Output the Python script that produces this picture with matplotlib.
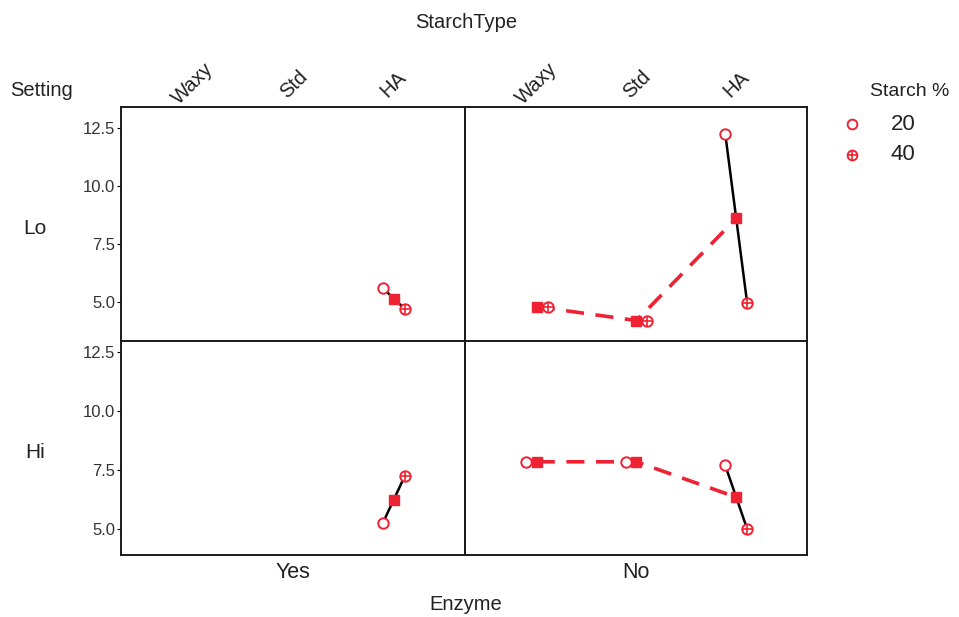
import numpy as np
import matplotlib
matplotlib.use("Agg")
import matplotlib.pyplot as plt

plt.rcParams["font.family"] = ["Liberation Sans", "DejaVu Sans"]

# Starch type categories and measured response at Starch% 20 / 40
starch_types = ["Waxy", "Std", "HA"]
settings = ["Lo", "Hi"]
enzymes = ["Yes", "No"]

lo_yes_20 = [np.nan, np.nan, 5.6]
lo_yes_40 = [np.nan, np.nan, 4.7]
lo_no_20 = [np.nan, np.nan, 12.25]
lo_no_40 = [4.8, 4.2, 4.95]
hi_yes_20 = [np.nan, np.nan, 5.25]
hi_yes_40 = [np.nan, np.nan, 7.25]
hi_no_20 = [7.85, 7.85, 7.7]
hi_no_40 = [np.nan, np.nan, 5.0]

yticks = [5.0, 7.5, 10.0, 12.5]

RED = "#ee2233"
TXT = "#222222"

panels = {
    ("Lo", "Yes"): (lo_yes_20, lo_yes_40),
    ("Lo", "No"): (lo_no_20, lo_no_40),
    ("Hi", "Yes"): (hi_yes_20, hi_yes_40),
    ("Hi", "No"): (hi_no_20, hi_no_40),
}

W, H = 959, 617
fig = plt.figure(figsize=(W / 100, H / 100), dpi=100)


def fx(px):
    return px / W


def fy(py):
    return 1 - py / H


# panel frames in pixel coordinates
col_edges = [(121, 465), (465, 807)]
row_edges = [(107, 341), (341, 555)]
row_ylim = [(3.32, 13.4), (3.9, 12.97)]
xlim = (-0.72, 2.71)
off = 0.11

x = np.arange(len(starch_types))

for r, setting in enumerate(settings):
    for c, enz in enumerate(enzymes):
        x0, x1 = col_edges[c]
        y0, y1 = row_edges[r]
        ax = fig.add_axes([fx(x0), fy(y1), fx(x1 - x0), (y1 - y0) / H])
        v20 = np.asarray(panels[(setting, enz)][0], dtype=float)
        v40 = np.asarray(panels[(setting, enz)][1], dtype=float)
        mean = np.nanmean(np.vstack([v20, v40]), axis=0)

        ok = ~np.isnan(mean)
        if ok.sum() > 1:
            ax.plot(x[ok], mean[ok], color=RED, lw=2.6, ls=(0, (5, 3.2)), zorder=2)
        for i in range(len(x)):
            if not np.isnan(v20[i]) and not np.isnan(v40[i]):
                ax.plot([x[i] - off, x[i], x[i] + off], [v20[i], mean[i], v40[i]],
                        color="black", lw=1.8, zorder=3)
        ax.plot(x[ok], mean[ok], ls="none", marker="s", ms=7.5, color=RED, zorder=4)
        ax.plot(x - off, v20, ls="none", marker="o", ms=7.5, mfc="white",
                mec=RED, mew=1.4, zorder=5)
        ax.plot(x + off, v40, ls="none", marker="o", ms=7.5, mfc="white",
                mec=RED, mew=1.4, zorder=5)
        ax.plot(x + off, v40, ls="none", marker="+", ms=7.5, mec=RED, mew=1.2, zorder=6)

        ax.set_xlim(*xlim)
        ax.set_ylim(*row_ylim[r])
        ax.set_xticks([])
        for s in ax.spines.values():
            s.set_linewidth(1.4)
            s.set_color("#1a1a1a")
        if c == 0:
            ax.set_yticks(yticks)
            ax.set_yticklabels([f"{t:.1f}" for t in yticks], fontsize=12, color="#333333")
            ax.tick_params(axis="y", length=3, width=0.8, pad=1)
        else:
            ax.set_yticks([])

        if r == 0:
            for i, name in enumerate(starch_types):
                xp = x0 + (x[i] - xlim[0]) / (xlim[1] - xlim[0]) * (x1 - x0)
                fig.text(fx(xp), fy(84), name, rotation=45, ha="center", va="center",
                         fontsize=14.5, color=TXT)
        if r == 1:
            fig.text(fx((x0 + x1) / 2), fy(573), enz, ha="center", va="center",
                     fontsize=15.5, color=TXT)

    fig.text(fx(35), fy((row_edges[r][0] + row_edges[r][1]) / 2 + 4), setting,
             ha="center", va="center", fontsize=15, color=TXT)

fig.text(fx(466), fy(22), "StarchType", ha="center", va="center", fontsize=14.5, color=TXT)
fig.text(fx(466), fy(605), "Enzyme", ha="center", va="center", fontsize=14.5, color=TXT)
fig.text(fx(42), fy(91), "Setting", ha="center", va="center", fontsize=14.5, color=TXT)

# legend for Starch %
fig.text(fx(910), fy(92), "Starch %", ha="center", va="center", fontsize=14, color=TXT)
lax = fig.add_axes([0, 0, 1, 1], facecolor="none")
lax.set_xlim(0, W)
lax.set_ylim(H, 0)
lax.axis("off")
lax.plot([852], [124], marker="o", ms=7, mfc="white", mec=RED, mew=1.4)
lax.plot([852], [155], marker="o", ms=7, mfc="white", mec=RED, mew=1.4)
lax.plot([852], [155], marker="+", ms=7, mec=RED, mew=1.2)
fig.text(fx(903), fy(124), "20", ha="center", va="center", fontsize=16, color=TXT)
fig.text(fx(903), fy(155), "40", ha="center", va="center", fontsize=16, color=TXT)

fig.savefig("out.png", dpi=100)
